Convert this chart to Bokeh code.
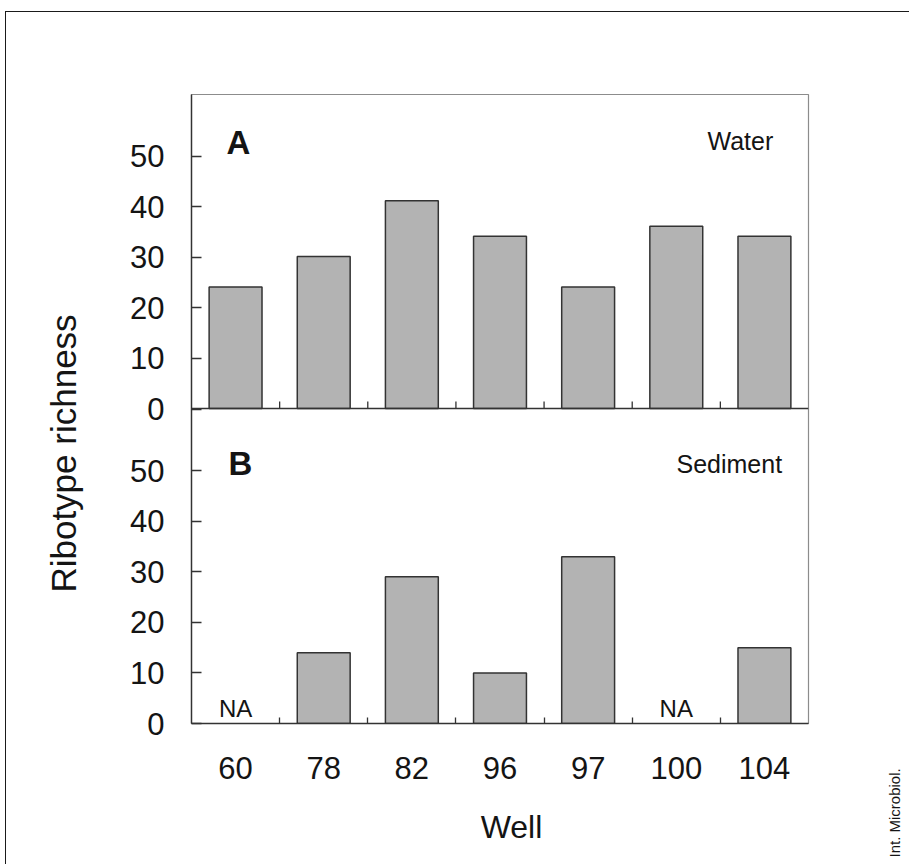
import numpy as np
from math import pi
from bokeh.plotting import figure
from bokeh.layouts import row, column
from bokeh.models import Range1d, LinearAxis, FixedTicker, Span, Label, ColumnDataSource
from bokeh.core.properties import value
from bokeh.embed import file_html
from bokeh.resources import INLINE

# ---- data ----
wells = ["60", "78", "82", "96", "97", "100", "104"]
water = [24, 30, 41, 34, 24, 36, 34]
sediment = [np.nan, 14, 29, 10, 33, np.nan, 15]
y_ticks = [0, 10, 20, 30, 40, 50]
panel_letters = ["A", "B"]
panel_titles = ["Water", "Sediment"]
x_title = "Well"
y_title = "Ribotype richness"
credit = "Int. Microbiol."

FONT = "Liberation Sans"
INK = "#141414"
PANEL_SPAN = 62.2   # value extent of each stacked panel

idx = np.arange(len(wells))
sed = np.array(sediment, dtype=float)
na_idx = idx[np.isnan(sed)]


def blank(width, height):
    f = figure(width=width, height=height, title=None, output_backend="svg",
               toolbar_location=None, x_axis_location=None, y_axis_location=None,
               x_range=Range1d(0, 1), y_range=Range1d(0, 1),
               min_border=0, min_border_left=0, min_border_right=0,
               min_border_top=0, min_border_bottom=0)
    f.outline_line_color = None
    f.grid.visible = False
    return f


def lab(fig, x, y, text, size, bold=False, angle=0.0, align="left"):
    fig.add_layout(Label(x=x, y=y, x_units="screen", y_units="screen", text=text,
                         angle=angle, text_align=align, text_baseline="alphabetic",
                         text_font=FONT, text_font_size=size, text_color=INK,
                         text_font_style="bold" if bold else "normal"))


# ---- main two-panel chart ----
p = figure(width=760, height=788, title=None, output_backend="svg", toolbar_location=None,
           x_range=Range1d(-0.5, len(wells) - 0.5),
           y_range=Range1d(-PANEL_SPAN, 62.0),
           x_axis_location=None, y_axis_location=None,
           min_border_left=85, min_border_right=58,
           min_border_top=82, min_border_bottom=77)
p.extra_y_ranges = {"B": Range1d(0, 2 * PANEL_SPAN)}
p.outline_line_color = "#8c8c8c"
p.outline_line_width = 1.2
p.grid.visible = False

tick_pos = [float(t) for t in y_ticks] + [float(t + PANEL_SPAN) for t in y_ticks]
tick_lab = {float(t): str(t) for t in y_ticks}
tick_lab.update({float(t + PANEL_SPAN): str(t) for t in y_ticks})
yaxis = LinearAxis(y_range_name="B", ticker=FixedTicker(ticks=tick_pos),
                   major_label_overrides=tick_lab)
yaxis.major_tick_in = 10
yaxis.major_tick_out = 0
yaxis.major_label_standoff = 27
p.add_layout(yaxis, "left")

xaxis = LinearAxis(ticker=FixedTicker(ticks=[int(i) for i in idx],
                                      minor_ticks=[float(i) + 0.5 for i in idx[:-1]]),
                   major_label_overrides={int(i): w for i, w in zip(idx, wells)})
xaxis.major_tick_in = 0
xaxis.major_tick_out = 0
xaxis.minor_tick_in = 6
xaxis.minor_tick_out = 0
xaxis.major_label_standoff = 33
p.add_layout(xaxis, "below")

for ax in (xaxis, yaxis):
    ax.axis_line_color = "#333333"
    ax.axis_line_width = 1.4
    ax.major_tick_line_color = "#333333"
    ax.major_tick_line_width = 1.3
    ax.minor_tick_line_color = "#333333"
    ax.minor_tick_line_width = 1.3
    ax.major_label_text_font = FONT
    ax.major_label_text_font_size = "31px"
    ax.major_label_text_color = INK
yaxis.minor_tick_line_color = None

src = ColumnDataSource(dict(x=idx, water=water, sediment=sed))
bar_style = dict(width=0.6, fill_color="#b3b3b3", line_color="#333333", line_width=1.5)
p.vbar(x="x", top="water", bottom=0, source=src, **bar_style)
p.vbar(x="x", top="sediment", bottom=0, source=src, y_range_name="B", **bar_style)

# divider between panels (panel A zero line) with its small ticks
p.add_layout(Span(location=0, dimension="width", line_color="#333333", line_width=1.5))
p.ray(x=[float(i) + 0.5 for i in idx[:-1]], y=0, length=7, length_units="screen",
      angle=pi / 2, line_color="#333333", line_width=1.3)

# NA markers for missing sediment values
p.text(x=na_idx, y=[0] * len(na_idx), text=["NA"] * len(na_idx), y_range_name="B",
       text_align="center", text_baseline="alphabetic", y_offset=-15,
       text_font=value(FONT), text_font_size="24px", text_color=INK)

lab(p, 35, 581, panel_letters[0], "33px", bold=True)
lab(p, 37, 260, panel_letters[1], "33px", bold=True)
lab(p, 516, 583, panel_titles[0], "25px")
lab(p, 485, 260, panel_titles[1], "25px")

# ---- side strips carrying the axis titles and the credit line ----
left = blank(100, 852)
lab(left, 57, 411, y_title, "35px", angle=pi / 2, align="center")

bottom = blank(760, 64)
lab(bottom, 320, 38, x_title, "32px", align="center")

right = blank(43, 852)
lab(right, 28, 7, credit, "15px", angle=pi / 2)

layout = row(left, column(p, bottom, spacing=0), right, spacing=0,
             margin=(11, 0, 0, 5),
             styles={"border-top": "1px solid #1a1a1a", "border-left": "1px solid #1a1a1a"})

open("out.html", "w").write(file_html(layout, INLINE))
